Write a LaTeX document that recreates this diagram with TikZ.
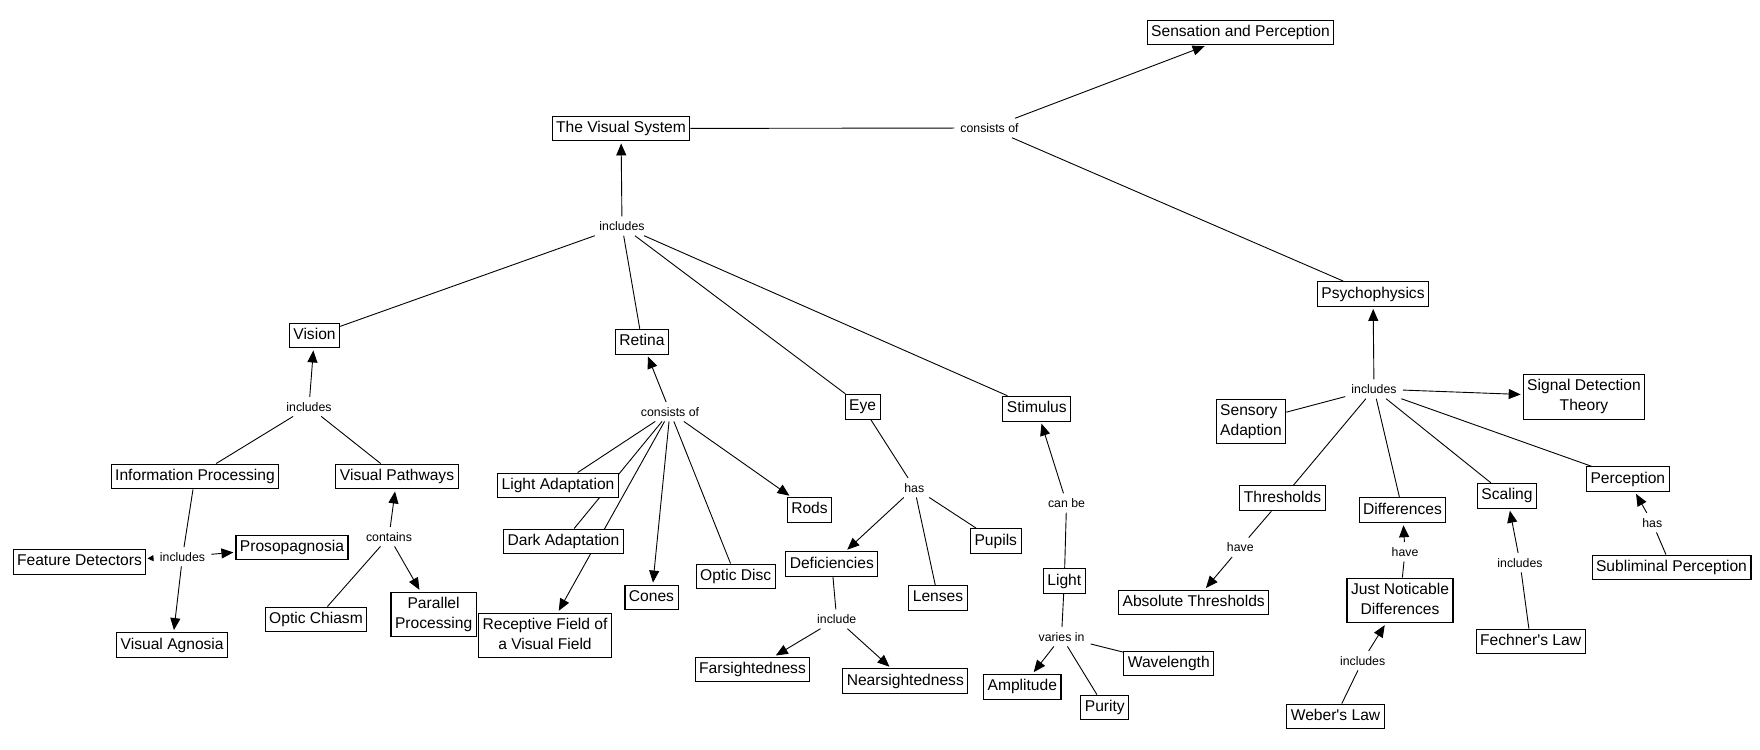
\documentclass[tikz,border=0pt]{standalone}
\usepackage{fontspec}
\setmainfont{Liberation Sans}[Ligatures=TeXOff]
\usetikzlibrary{arrows.meta}
\pgfdeclarelayer{bg}
\pgfsetlayers{bg,main}
\newcommand\st{\rule[-3.3pt]{0pt}{14.8pt}}
\begin{document}
\begin{tikzpicture}[x=1pt,y=-1pt,
  box/.style={draw, line width=1.1pt, fill=white, inner xsep=4pt, inner ysep=5pt,
    font=\fontsize{15.6}{20}\selectfont, text height=11.5pt, text depth=3.3pt},
  boxtwo/.style={draw, line width=1.1pt, fill=white, inner xsep=4pt, inner ysep=5pt,
    font=\fontsize{15.6}{20}\selectfont, align=center},
  lab/.style={inner xsep=6pt, inner ysep=5pt, font=\fontsize{12.3}{14}\selectfont},
  con/.style={line width=0.9pt},
  arr/.style={line width=0.9pt, -{Triangle[length=12pt,width=10pt]}, shorten >=2pt}]
\useasboundingbox (0,0) rectangle (1760,749);
% concepts
\node[box] (sp) at (1240.5,32.5) {Sensation and Perception};
\node[box] (tvs) at (621,128.5) {The Visual System};
\node[box] (psy) at (1373,294) {Psychophysics};
\node[box] (vision) at (314.5,335.5) {Vision};
\node[box] (retina) at (642,341.7) {Retina};
\node[box] (eye) at (862.6,406.8) {Eye};
\node[box] (stim) at (1036.8,408.7) {Stimulus};
\node[box] (infop) at (195,476.5) {Information Processing};
\node[box] (vpath) at (397,476.5) {Visual Pathways};
\node[box] (fd) at (79.5,561.8) {Feature Detectors};
\node[box] (proso) at (292,547.5) {Prosopagnosia};
\node[box] (va) at (172.2,645) {Visual Agnosia};
\node[box] (oc) at (316,619.5) {Optic Chiasm};
\node[boxtwo] (pp) at (433.6,614.5) {Parallel\st\\Processing\st};
\node[box] (la) at (558,485.5) {Light Adaptation};
\node[box] (da) at (563.5,541.5) {Dark Adaptation};
\node[boxtwo] (rf) at (545,635.5) {Receptive Field of\st\\a Visual Field\st};
\node[box] (cones) at (651.5,597.5) {Cones};
\node[box] (od) at (735.7,576.5) {Optic Disc};
\node[box] (rods) at (809.5,509.8) {Rods};
\node[box] (def) at (831.8,564) {Deficiencies};
\node[box] (far) at (752.5,669.5) {Farsightedness};
\node[box] (near) at (905.3,681) {Nearsightedness};
\node[box] (lenses) at (938,597.8) {Lenses};
\node[box] (pupils) at (995.8,541) {Pupils};
\node[box] (light) at (1064.3,581) {Light};
\node[box] (amp) at (1022.3,686.7) {Amplitude};
\node[box] (purity) at (1104.8,707.5) {Purity};
\node[box] (wave) at (1168.8,663.5) {Wavelength};
\node[boxtwo] (sdt) at (1584,396.8) {Signal Detection\st\\Theory\st};
\node[boxtwo, align=left] (sa) at (1251,421.5) {Sensory\st\\Adaption\st};
\node[box] (thr) at (1282.5,498.3) {Thresholds};
\node[box] (diff) at (1402.5,510.3) {Differences};
\node[box] (scal) at (1507,495.8) {Scaling};
\node[box] (perc) at (1627.8,479.2) {Perception};
\node[box] (subl) at (1671.5,567.5) {Subliminal Perception};
\node[box] (abs) at (1193.7,602.5) {Absolute Thresholds};
\node[boxtwo] (jnd) at (1400,600.5) {Just Noticable\st\\Differences\st};
\node[box] (fech) at (1530.6,641.5) {Fechner's Law};
\node[box] (weber) at (1335.5,716.5) {Weber's Law};
% linking phrases
\node[lab] (L1) at (989.5,128) {consists of};
\node[lab] (L2) at (622,226) {includes};
\node[lab] (L3) at (309,406.7) {includes};
\node[lab] (L4) at (670,411.7) {consists of};
\node[lab] (L5) at (182.5,556.7) {includes};
\node[lab] (L6) at (389,536.7) {contains};
\node[lab] (L7) at (914.3,487.7) {has};
\node[lab] (L8) at (836.7,619) {include};
\node[lab] (L9) at (1066.5,503) {can be};
\node[lab] (L10) at (1061.5,636.7) {varies in};
\node[lab] (L11) at (1374,389) {includes};
\node[lab] (L12) at (1240.3,547.3) {have};
\node[lab] (L13) at (1405,551.7) {have};
\node[lab] (L14) at (1362.6,660.7) {includes};
\node[lab] (L15) at (1520,562.7) {includes};
\node[lab] (L16) at (1652.3,522.7) {has};
% connectors
\begin{pgfonlayer}{bg}
\draw[con] (tvs) -- (L1) (L1) -- (psy);
\draw[arr] (L1) -- (sp);
\draw[arr] (L2) -- (tvs);
\draw[con] (L2) -- (vision) (L2) -- (retina) (L2) -- (eye) (L2) -- (stim);
\draw[arr] (L3) -- (vision);
\draw[con] (L3) -- (infop) (L3) -- (vpath);
\draw[arr] (L4) -- (retina);
\draw[con] (L4) -- (la) (L4) -- (da) (L4) -- (od);
\draw[arr] (L4) -- (rf);
\draw[arr] (L4) -- (cones);
\draw[arr] (L4) -- (rods);
\draw[con] (infop) -- (L5);
\draw[con, -{Triangle[length=6pt,width=6pt]}, shorten >=1pt] (L5) -- (fd);
\draw[arr] (L5) -- (proso);
\draw[arr] (L5) -- (va);
\draw[arr] (L6) -- (vpath);
\draw[arr] (L6) -- (pp);
\draw[con] (oc) -- (L6);
\draw[con] (eye) -- (L7) (L7) -- (lenses) (L7) -- (pupils);
\draw[arr] (L7) -- (def);
\draw[con] (def) -- (L8);
\draw[arr] (L8) -- (far);
\draw[arr] (L8) -- (near);
\draw[arr] (L9) -- (stim);
\draw[con] (light) -- (L9);
\draw[con] (light) -- (L10) (L10) -- (purity) (L10) -- (wave);
\draw[arr] (L10) -- (amp);
\draw[arr] (L11) -- (psy);
\draw[arr] (L11) -- (sdt);
\draw[con] (L11) -- (sa) (L11) -- (thr) (L11) -- (diff) (L11) -- (scal) (L11) -- (perc);
\draw[con] (thr) -- (L12);
\draw[arr] (L12) -- (abs);
\draw[arr] (L13) -- (diff);
\draw[con] (jnd) -- (L13);
\draw[arr] (L14) -- (jnd);
\draw[con] (weber) -- (L14);
\draw[arr] (L15) -- (scal);
\draw[con] (fech) -- (L15);
\draw[arr] (L16) -- (perc);
\draw[con] (subl) -- (L16);
\end{pgfonlayer}
\end{tikzpicture}
\end{document}
